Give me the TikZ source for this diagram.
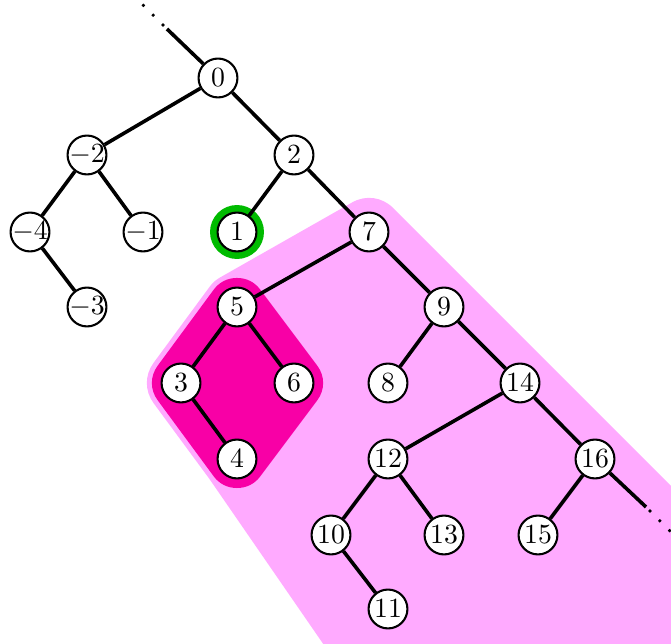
\documentclass[tikz,border=0pt]{standalone}
\definecolor{lightpink}{RGB}{255,170,255}
\definecolor{darkpink}{RGB}{248,0,166}
\definecolor{ringgreen}{RGB}{0,187,0}
\begin{document}
\begin{tikzpicture}[x=0.36pt,y=-0.36pt,line join=round,line cap=round,
	vertex/.style={circle,draw,fill=white,line width=0.75pt,inner sep=-1pt,minimum size=14pt},
	edge/.style={line width=1.3pt,line cap=butt},
	dotline/.style={line width=1.3pt,dash pattern=on 0pt off 5pt}]
	\useasboundingbox (0,0) rectangle (671,644);
	\clip (0,0) rectangle (671,644);
	\path 
	(218,78) coordinate (c0)
	(87,155) coordinate (cm2)
	(294,155) coordinate (c2)
	(30,232) coordinate (cm4)
	(143,232) coordinate (cm1)
	(237,232) coordinate (c1)
	(369,232) coordinate (c7)
	(87,307) coordinate (cm3)
	(237,307) coordinate (c5)
	(444,307) coordinate (c9)
	(181,383) coordinate (c3)
	(294,383) coordinate (c6)
	(388,383) coordinate (c8)
	(520,383) coordinate (c14)
	(237,459) coordinate (c4)
	(388,459) coordinate (c12)
	(595,459) coordinate (c16)
	(331,535) coordinate (c10)
	(444,535) coordinate (c13)
	(538,535) coordinate (c15)
	(388,609) coordinate (c11)
	(167,29) coordinate (tl)
	(163,25) coordinate (tldot)
	(120,-18) coordinate (tlend)
	(646,507) coordinate (br)
	(650,511) coordinate (brdot)
	(700,561) coordinate (brend)
	;
	% regions
	\filldraw[lightpink,line width=24.5pt] (c7)--(720,583)--(720,720)--(417,720)--(c4)--(c3)--(c5)--cycle;
	\filldraw[darkpink,line width=20.9pt] (c5)--(c6)--(c4)--(c3)--cycle;
	\draw[ringgreen,line width=2.5pt] (c1) circle (8.46pt);
	% nodes
	\node[vertex] (n0) at (c0) {$0$};
	\node[vertex] (nm2) at (cm2) {$-2$};
	\node[vertex] (n2) at (c2) {$2$};
	\node[vertex] (nm4) at (cm4) {$-4$};
	\node[vertex] (nm1) at (cm1) {$-1$};
	\node[vertex] (n1) at (c1) {$1$};
	\node[vertex] (n7) at (c7) {$7$};
	\node[vertex] (nm3) at (cm3) {$-3$};
	\node[vertex] (n5) at (c5) {$5$};
	\node[vertex] (n9) at (c9) {$9$};
	\node[vertex] (n3) at (c3) {$3$};
	\node[vertex] (n6) at (c6) {$6$};
	\node[vertex] (n8) at (c8) {$8$};
	\node[vertex] (n14) at (c14) {$14$};
	\node[vertex] (n4) at (c4) {$4$};
	\node[vertex] (n12) at (c12) {$12$};
	\node[vertex] (n16) at (c16) {$16$};
	\node[vertex] (n10) at (c10) {$10$};
	\node[vertex] (n13) at (c13) {$13$};
	\node[vertex] (n15) at (c15) {$15$};
	\node[vertex] (n11) at (c11) {$11$};
	% edges
	\draw[edge] (n0)--(nm2) (n0)--(n2) (nm2)--(nm4) (nm2)--(nm1) (nm4)--(nm3)
	(n2)--(n1) (n2)--(n7) (n7)--(n5) (n7)--(n9) (n5)--(n3) (n5)--(n6) (n3)--(n4)
	(n9)--(n8) (n9)--(n14) (n14)--(n12) (n14)--(n16) (n12)--(n10) (n12)--(n13)
	(n16)--(n15) (n10)--(n11);
	\draw[edge] (n0)--(tl) (n16)--(br);
	\draw[dotline] (tldot)--(tlend) (brdot)--(brend);
\end{tikzpicture}
\end{document}
